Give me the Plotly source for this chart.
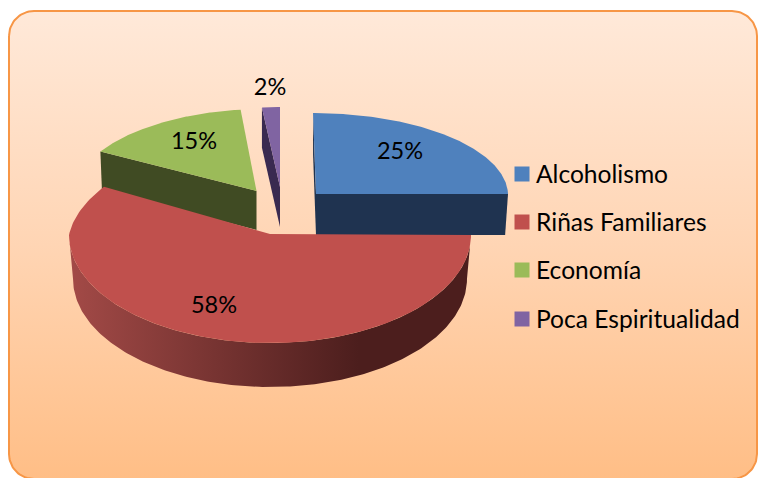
import numpy as np
import plotly.graph_objects as go

categories = ["Alcoholismo", "Riñas Familiares", "Economía", "Poca Espiritualidad"]
values = [25, 58, 15, 2]
top_colors = ["#4F81BD", "#C0504D", "#9BBB59", "#8064A2"]
side_colors = ["#1F3350", "#4C1E1D", "#404B23", "#3A2A50"]

W, H = 758, 478
FONT = "Lato"
SIZE = 23.5
LEGEND_SIZE = 24.6

# Pixel geometry for each exploded, perspective-squashed slice
geom = {
    0: dict(cx=316, cy=194, rx=192, ry_b=81, ry_f=81, skew=-3, depth=41, shrink=0.985),
    1: dict(cx=270, cy=235, rx=201, ry_b=100, ry_f=108, skew=21, depth=44, shrink=0.98),
    2: dict(cx=256.5, cy=191, rx=182, ry_b=82, ry_f=82, skew=7, depth=39, shrink=0.99),
    3: dict(cx=280, cy=187, rx=144, ry_b=80, ry_f=80, skew=0, depth=40, shrink=1.0),
}
label_pos = [(400, 153), (214, 307), (194, 143), (270, 89)]
legend_x = 522
legend_text_x = 536
legend_y = [174, 222, 270, 319]
legend_text_y = [176.5, 224.5, 272.5, 321.5]

fracs = np.cumsum([0] + values) / sum(values) * 2 * np.pi
start, stop = fracs[:-1], fracs[1:]


def arc(i, t):
    g = geom[i]
    t = np.asarray(t, dtype=float)
    c, s = np.cos(t), np.sin(t)
    ry = np.where(c > 0, g["ry_b"], g["ry_f"])
    return g["cx"] + g["rx"] * s + g["skew"] * np.maximum(c, 0), g["cy"] - ry * c


def drop(i, x, y):
    g = geom[i]
    x = np.asarray(x, dtype=float)
    return g["cx"] + (x - g["cx"]) * g["shrink"], np.asarray(y, dtype=float) + g["depth"]


def poly(fig, x, y, color=None, gradient=None):
    kw = dict(fillgradient=gradient) if gradient else dict(fillcolor=color)
    fig.add_trace(go.Scatter(
        x=list(x), y=list(y), mode="lines", fill="toself",
        line=dict(width=0), hoverinfo="skip", showlegend=False, **kw))


def radial_side(fig, i, theta):
    g = geom[i]
    ax, ay = arc(i, [theta])
    bx, by = drop(i, ax, ay)
    poly(fig, [ax[0], g["cx"], g["cx"], bx[0]],
         [ay[0], g["cy"], g["cy"] + g["depth"], by[0]], side_colors[i])


def top_face(fig, i):
    g = geom[i]
    t = np.linspace(start[i], stop[i], 160)
    x, y = arc(i, t)
    poly(fig, [g["cx"], *x], [g["cy"] - (1 if i == 1 else 0), *y], top_colors[i])


def outer_side(fig, i, t0, t1, color=None, gradient=None):
    t = np.linspace(t0, t1, 200)
    x, y = arc(i, t)
    bx, by = drop(i, x, y)
    poly(fig, [*x, *bx[::-1]], [*y, *by[::-1]], color, gradient)


fig = go.Figure()

# Rounded panel with vertical gradient
x0, y0, x1, y1, r = 9, 11, 757, 479, 25
a = np.linspace(0, np.pi / 2, 24)
px = [*(x0 + r - r * np.cos(a)), *(x1 - r + r * np.sin(a)), *(x1 - r + r * np.cos(a)), *(x0 + r - r * np.sin(a)), x0]
py = [*(y0 + r - r * np.sin(a)), *(y0 + r - r * np.cos(a)), *(y1 - r + r * np.sin(a)), *(y1 - r + r * np.cos(a)), y0 + r]
fig.add_trace(go.Scatter(
    x=px, y=py, mode="lines", fill="toself",
    line=dict(color="#F79646", width=2),
    fillgradient=dict(type="vertical", colorscale=[[0, "#FFBE86"], [0.5, "#FFD5B4"], [1, "#FFE9D9"]]),
    hoverinfo="skip", showlegend=False))

# Back slices first
radial_side(fig, 0, start[0])
gb = geom[0]
ax, ay = arc(0, [stop[0]])
bx, by = drop(0, ax, ay)
poly(fig, [gb["cx"], ax[0], bx[0], gb["cx"]], [gb["cy"], ay[0], by[0], gb["cy"] + gb["depth"]], side_colors[0])
top_face(fig, 0)

radial_side(fig, 2, start[2])
top_face(fig, 2)

radial_side(fig, 3, start[3])
top_face(fig, 3)

# Large front slice
outer_side(fig, 1, start[1], np.pi * 1.5, gradient=dict(
    type="horizontal",
    colorscale=[[0, "#A34A47"], [0.72, "#4C1E1D"], [1, "#4C1E1D"]]))
top_face(fig, 1)

# Percentage labels
fig.add_trace(go.Scatter(
    x=[p[0] for p in label_pos], y=[p[1] for p in label_pos],
    mode="text", text=[f"{v}%" for v in values],
    textposition="middle center",
    textfont=dict(family=FONT, size=SIZE, color="#000000"),
    hoverinfo="skip", showlegend=False))

# Legend
fig.add_trace(go.Scatter(
    x=[legend_x] * len(categories), y=legend_y, mode="markers",
    marker=dict(symbol="square", size=15, color=top_colors, line=dict(width=0)),
    hoverinfo="skip", showlegend=False))
fig.add_trace(go.Scatter(
    x=[legend_text_x] * len(categories), y=legend_text_y, mode="text",
    text=categories, textposition="middle right",
    textfont=dict(family=FONT, size=LEGEND_SIZE, color="#000000"),
    hoverinfo="skip", showlegend=False))

fig.update_layout(
    width=W, height=H, margin=dict(l=0, r=0, t=0, b=0),
    paper_bgcolor="#FFFFFF", plot_bgcolor="rgba(0,0,0,0)", showlegend=False,
    xaxis=dict(range=[0, W], visible=False, fixedrange=True),
    yaxis=dict(range=[H, 0], visible=False, fixedrange=True),
)
fig.write_html(
    "out.html",
    config={"displayModeBar": False},
    post_script="document.body.style.margin='0';document.body.style.overflow='hidden';",
)
